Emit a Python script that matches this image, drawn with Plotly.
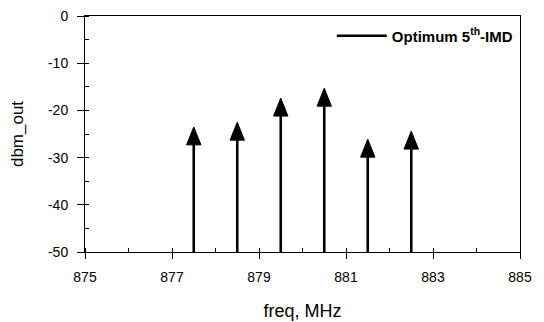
import plotly.graph_objects as go

# Output spectrum: tone frequencies (MHz) and output power (dBm)
freq_mhz = [877.5, 878.5, 879.5, 880.5, 881.5, 882.5]
dbm_out = [-23.5, -22.5, -17.4, -15.3, -26.1, -24.4]

floor_dbm = -50
x_ticks = [875, 877, 879, 881, 883, 885]
y_ticks = [0, -10, -20, -30, -40, -50]

FONT = "Liberation Sans, Arial, sans-serif"
head_half_w = 0.165  # arrowhead half width, MHz
head_len = 3.8       # arrowhead length, dB

# stems from the floor up to the base of each arrowhead
stem_x, stem_y = [], []
for f, p in zip(freq_mhz, dbm_out):
    stem_x += [f, f, None]
    stem_y += [floor_dbm, p - head_len + 0.5, None]

# filled arrowheads with their tips at each value
head_x, head_y = [], []
for f, p in zip(freq_mhz, dbm_out):
    head_x += [f - head_half_w, f, f + head_half_w, f - head_half_w, None]
    head_y += [p - head_len, p, p - head_len, p - head_len, None]

fig = go.Figure()
fig.add_trace(go.Scatter(
    x=stem_x, y=stem_y, mode="lines",
    line=dict(color="black", width=2.6),
    name="<b>Optimum 5<sup>th</sup>-IMD</b>",
    showlegend=True,
))
fig.add_trace(go.Scatter(
    x=head_x, y=head_y, mode="lines", fill="toself",
    fillcolor="black", line=dict(color="black", width=1),
    showlegend=False, hoverinfo="skip",
))

fig.update_layout(
    width=544, height=322,
    margin=dict(l=85, r=24, t=16, b=70),
    paper_bgcolor="white", plot_bgcolor="white",
    font=dict(family=FONT, color="black", size=14),
    legend=dict(
        x=0.995, y=0.985, xanchor="right", yanchor="top",
        bgcolor="rgba(0,0,0,0)", font=dict(size=15, family=FONT),
        itemwidth=50,
    ),
    xaxis=dict(
        range=[875, 885], tickvals=x_ticks, ticktext=[str(v) for v in x_ticks],
        showgrid=False, zeroline=False, automargin=False,
        showline=True, linecolor="black", linewidth=1, mirror=True,
        ticks="outside", ticklen=6, tickcolor="black", tickwidth=1,
        minor=dict(dtick=1, ticks="inside", ticklen=4, tickcolor="black"),
        tickfont=dict(size=14), ticklabelstandoff=6,
        title=dict(text="freq, MHz", font=dict(size=18), standoff=20),
    ),
    yaxis=dict(
        range=[-50, 0], tickvals=y_ticks, ticktext=[str(v) for v in y_ticks],
        showgrid=False, zeroline=False, automargin=False,
        showline=True, linecolor="black", linewidth=1, mirror=True,
        ticks="outside", ticklen=7, tickcolor="black", tickwidth=1,
        minor=dict(dtick=5, ticks="inside", ticklen=4, tickcolor="black"),
        tickfont=dict(size=14), ticklabelstandoff=6,
        title=dict(text="dbm_out", font=dict(size=17), standoff=20),
    ),
)

fig.write_html("out.html")
